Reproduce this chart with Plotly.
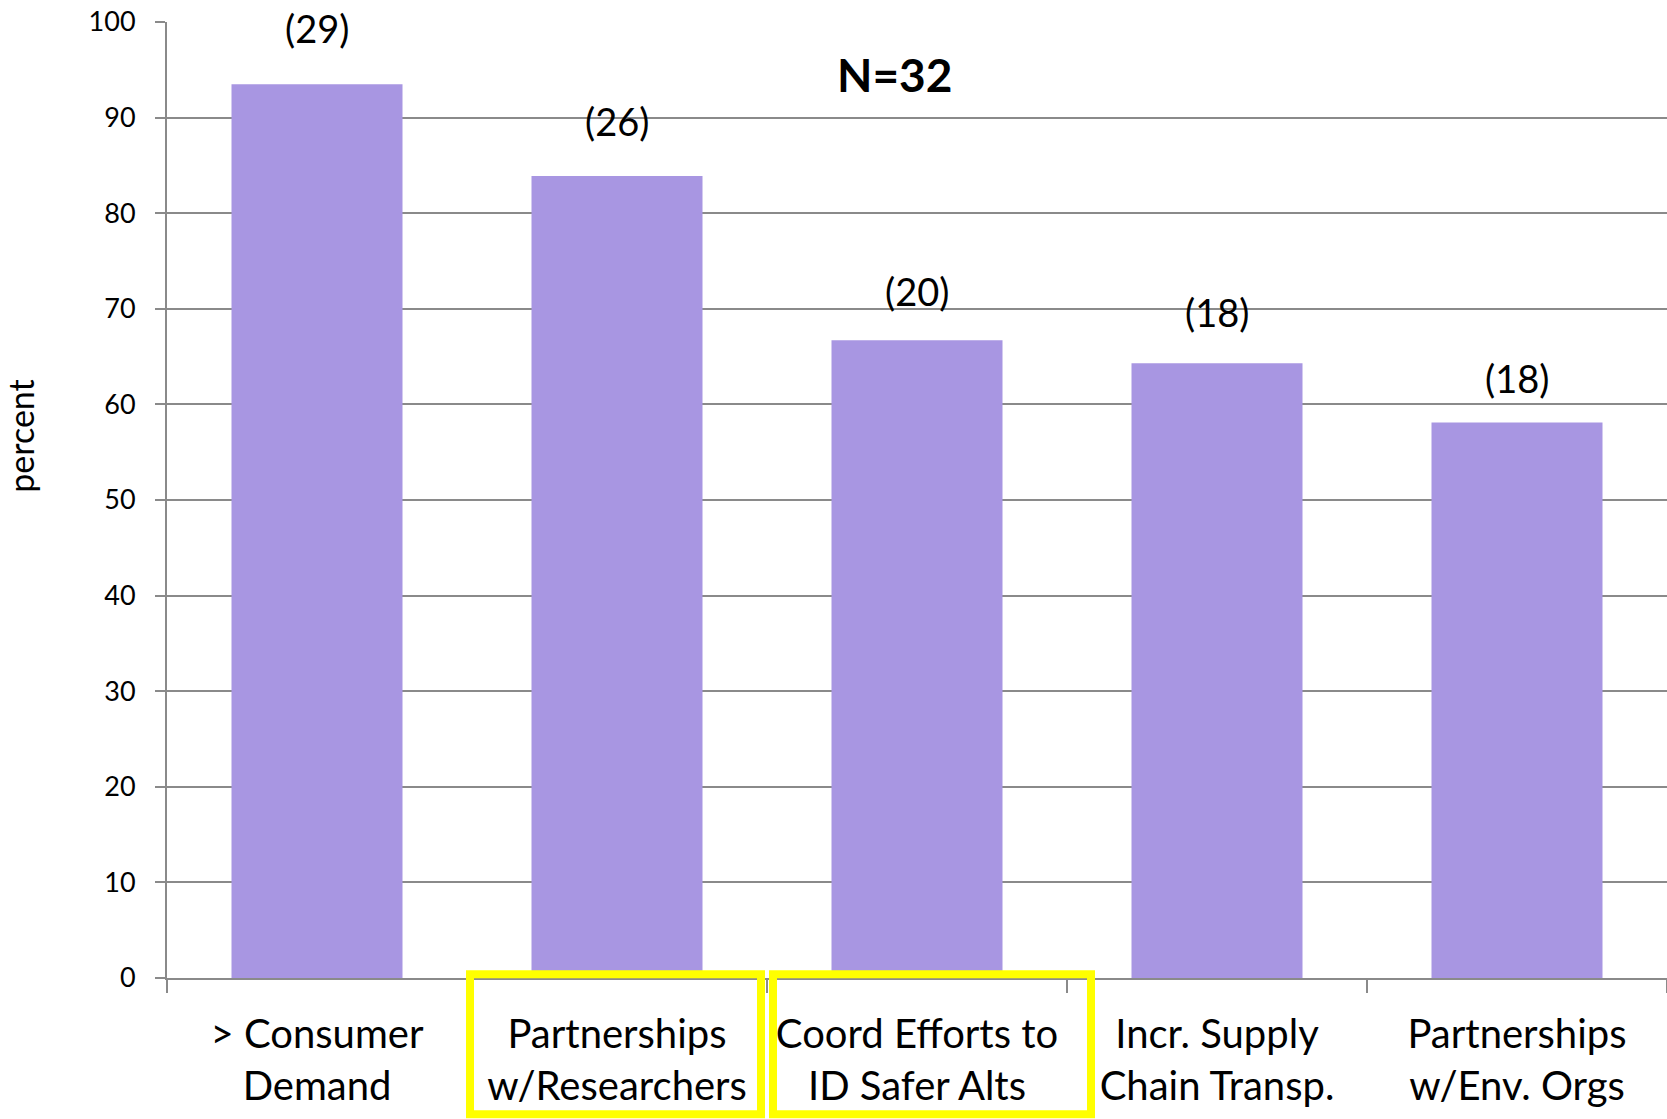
import plotly.graph_objects as go

categories = ["> Consumer<br>Demand", "Partnerships<br>w/Researchers", "Coord Efforts to<br>ID Safer Alts",
              "Incr. Supply<br>Chain Transp.", "Partnerships<br>w/Env. Orgs"]
percent = [93.5, 83.9, 66.7, 64.3, 58.1]
counts = ["(29)", "(26)", "(20)", "(18)", "(18)"]
highlighted = [1, 2]
y_ticks = [0, 10, 20, 30, 40, 50, 60, 70, 80, 90, 100]

# label lift above each bar (pixels) - style only
label_lift = [56, 55, 49, 51, 45]

FONT = "Lato"
GRID = "#8a8a8a"

fig = go.Figure()
fig.add_trace(go.Bar(x=list(range(len(categories))), y=percent, marker=dict(color="#A896E2", line=dict(width=0)),
                     hoverinfo="skip"))

for i, (v, c) in enumerate(zip(percent, counts)):
    fig.add_annotation(x=i, y=v, text=c, showarrow=False, yshift=label_lift[i], yanchor="middle", xanchor="center",
                       font=dict(family=FONT, size=38, color="black"))

fig.add_annotation(x=0.485, y=0.945, xref="paper", yref="paper", text="<b>N=32</b>", showarrow=False,
                   xanchor="center", yanchor="middle",
                   font=dict(family=FONT, size=46, color="black"))
fig.add_annotation(x=-0.0975, y=0.567, xref="paper", yref="paper", text="percent", textangle=-90,
                   xanchor="center", yanchor="middle",
                   showarrow=False, font=dict(family=FONT, size=34, color="black"))

box_extent = {1: (-0.49, 0.48), 2: (-0.48, 0.58)}
for i in highlighted:
    lo, hi = box_extent[i]
    fig.add_shape(type="rect", xref="x", yref="paper", x0=i + lo, x1=i + hi, y0=0.004, y1=-0.1425,
                  line=dict(color="#FFFF00", width=8), fillcolor="rgba(0,0,0,0)", layer="above")

fig.update_layout(
    width=1667, height=1119,
    margin=dict(l=167, r=0, t=22, b=141, autoexpand=False),
    plot_bgcolor="white", paper_bgcolor="white",
    bargap=0.43, showlegend=False, hovermode=False,
    font=dict(family=FONT, color="black"),
)
fig.update_xaxes(
    tickmode="array", tickvals=list(range(len(categories))), ticktext=categories,
    range=[-0.5, len(categories) - 0.5], automargin=False, ticklabeloverflow="allow",
    showline=True, linecolor=GRID, linewidth=2,
    showgrid=False, ticks="", ticklabelstandoff=20,
    tickfont=dict(family=FONT, size=40, color="black"),
)
# boundary tick marks via minor ticks
fig.update_xaxes(minor=dict(tickmode="array", tickvals=[i - 0.5 for i in range(len(categories) + 1)],
                            ticks="outside", ticklen=13, tickcolor=GRID, tickwidth=2, showgrid=False))
fig.update_yaxes(
    range=[0, 100], tickmode="array", tickvals=y_ticks, automargin=False, ticklabeloverflow="allow",
    showline=True, linecolor=GRID, linewidth=2,
    showgrid=True, gridcolor=GRID, gridwidth=2, zeroline=False,
    ticks="outside", ticklen=10, tickcolor=GRID, tickwidth=2, ticklabelstandoff=14,
    tickfont=dict(family=FONT, size=27, color="black"),
)

fig.write_html("out.html", config={"displayModeBar": False, "staticPlot": True},
               post_script="document.body.style.margin='0px';")
